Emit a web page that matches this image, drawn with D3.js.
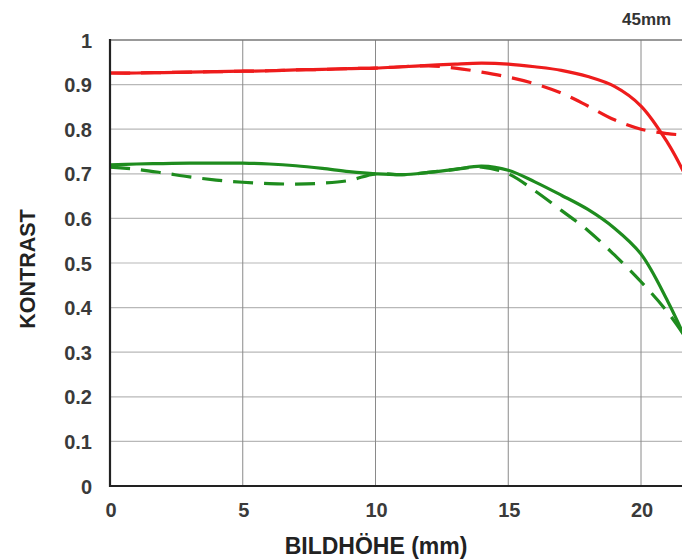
<!DOCTYPE html>
<html><head><meta charset="utf-8">
<script src="https://cdn.jsdelivr.net/npm/d3@7"></script>
<style>html,body{margin:0;padding:0;background:#fff;overflow:hidden}</style>
</head><body>
<svg id="chart" width="682" height="559"></svg>
<script>
const heights = [0,1,2,3,4,5,6,7,8,9,10,11,12,13,14,15,16,17,18,19,20,21,21.6];
const redSolid   = [0.926,0.926,0.927,0.928,0.929,0.930,0.931,0.933,0.934,0.936,0.937,0.940,0.943,0.946,0.948,0.946,0.940,0.932,0.918,0.896,0.852,0.770,0.705];
const redDashed  = [0.926,0.926,0.927,0.928,0.929,0.930,0.931,0.933,0.934,0.936,0.937,0.940,0.942,0.937,0.928,0.917,0.902,0.881,0.852,0.821,0.800,0.790,0.787];
const greenSolid = [0.720,0.722,0.723,0.724,0.724,0.724,0.722,0.718,0.712,0.705,0.700,0.698,0.703,0.710,0.717,0.708,0.682,0.652,0.620,0.578,0.520,0.415,0.340];
const greenDashed= [0.715,0.710,0.702,0.693,0.686,0.681,0.678,0.677,0.679,0.685,0.700,0.698,0.703,0.710,0.715,0.700,0.662,0.618,0.573,0.518,0.458,0.390,0.340];
const xTicks = [0,5,10,15,20];
const yTicks = [0,0.1,0.2,0.3,0.4,0.5,0.6,0.7,0.8,0.9,1];
const focalLabel = "45mm";
const xTitle = "BILDHÖHE (mm)";
const yTitle = "KONTRAST";

const svg = d3.select("#chart");
const x = d3.scaleLinear().domain([0,20]).range([110,641]);
const y = d3.scaleLinear().domain([0,1]).range([486,40]);
const font = "Arial, 'Liberation Sans', sans-serif";

// grid
svg.append("g").selectAll("line").data(yTicks.filter(d=>d>0 && d<1)).join("line")
  .attr("x1",110).attr("x2",682).attr("y1",d=>y(d)).attr("y2",d=>y(d))
  .attr("stroke","#b8b8b8").attr("stroke-width",1.2);
svg.append("g").selectAll("line").data(xTicks.filter(d=>d>0)).join("line")
  .attr("x1",d=>x(d)).attr("x2",d=>x(d)).attr("y1",40).attr("y2",486)
  .attr("stroke","#8a8a8a").attr("stroke-width",1);
// top border
svg.append("line").attr("x1",110).attr("x2",682).attr("y1",y(1)).attr("y2",y(1))
  .attr("stroke","#777").attr("stroke-width",1.5);

// lines
const line = d3.line().x((d,i)=>x(heights[i])).y(d=>y(d)).curve(d3.curveCatmullRom.alpha(0.5));
const series = [
  {v:greenDashed, c:"#1e8c1e", dash:"20,11"},
  {v:greenSolid, c:"#1e8c1e", dash:null},
  {v:redDashed, c:"#ee1c1c", dash:"20,11"},
  {v:redSolid, c:"#ee1c1c", dash:null}
];
series.forEach(s=>{
  svg.append("path").attr("d",line(s.v)).attr("fill","none")
    .attr("stroke",s.c).attr("stroke-width",3.2)
    .attr("stroke-dasharray",s.dash);
});

// axes
svg.append("line").attr("x1",110).attr("x2",110).attr("y1",39).attr("y2",487)
  .attr("stroke","#222").attr("stroke-width",2.2);
svg.append("line").attr("x1",109).attr("x2",682).attr("y1",486).attr("y2",486)
  .attr("stroke","#222").attr("stroke-width",2.2);

// tick labels
svg.append("g").selectAll("text").data(yTicks).join("text")
  .attr("x",92).attr("y",d=>y(d)+7.5).attr("text-anchor","end")
  .attr("font-family",font).attr("font-weight","bold").attr("font-size",20)
  .attr("fill","#3a3a3a").text(d=>d===0||d===1?String(d):d.toFixed(1));
svg.append("g").selectAll("text").data(xTicks).join("text")
  .attr("x",d=>x(d)+1).attr("y",517).attr("text-anchor","middle")
  .attr("font-family",font).attr("font-weight","bold").attr("font-size",20)
  .attr("fill","#3a3a3a").text(d=>d);

// titles
svg.append("text").attr("x",376).attr("y",554).attr("text-anchor","middle")
  .attr("font-family",font).attr("font-weight","bold").attr("font-size",23)
  .attr("fill","#222").text(xTitle);
svg.append("text").attr("transform","translate(35,269) rotate(-90)").attr("text-anchor","middle")
  .attr("font-family",font).attr("font-weight","bold").attr("font-size",21.5)
  .attr("fill","#222").text(yTitle);
svg.append("text").attr("x",622).attr("y",25)
  .attr("font-family",font).attr("font-weight","bold").attr("font-size",17)
  .attr("fill","#333").text(focalLabel);
</script>
</body></html>
